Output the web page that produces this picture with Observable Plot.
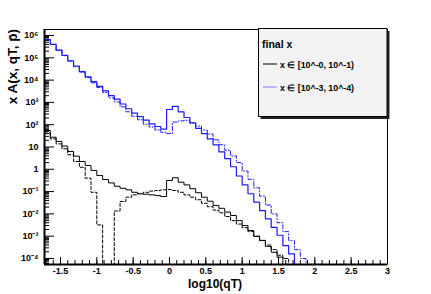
<!DOCTYPE html>
<html><head><meta charset="utf-8">
<script src="https://cdn.jsdelivr.net/npm/d3@7"></script>
<script src="https://cdn.jsdelivr.net/npm/@observablehq/plot@0.6"></script>
<style>
body{margin:0;background:#fff;}
#chart{position:relative;width:431px;height:294px;overflow:hidden;}
</style></head><body><div id="chart"></div>
<script>
// histogram binning of log10(qT)
const binStart = -1.72, binEnd = 3.0, binWidth = 0.08;

// x in [10^-0, 10^-1)  (black)
const blackSolid = [55,27.5,17.8,11,6.3,3.9,2.24,1.48,0.89,0.525,0.347,0.245,0.174,0.141,0.12,0.093,0.079,0.076,0.071,0.066,0.06,0.316,0.417,0.263,0.2,0.135,0.089,0.056,0.037,0.024,0.0178,0.012,0.0085,0.005,0.003,0.0018,9.8e-4,6.5e-4,3.5e-4,1.9e-4,1.15e-4,0,0,0,0,0,0,0,0,0,0,0,0,0,0,0,0,0,0];
const blackDashed = [42,23,13.8,8.3,4.5,2.24,1.23,0.4,0.093,0.0032,0,0,0.0135,0.036,0.056,0.072,0.083,0.093,0.105,0.112,0.12,0.123,0.112,0.093,0.071,0.056,0.043,0.03,0.021,0.0148,0.0112,0.0076,0.005,0.0035,0.0024,0.0016,0.001,6.3e-4,4.0e-4,2.5e-4,1.4e-4,1.0e-4,0,0,0,0,0,0,0,0,0,0,0,0,0,0,0,0,0];
// x in [10^-3, 10^-4)  (blue)
const blueSolid = [6.6e5,4.0e5,2.2e5,1.3e5,7.4e4,4.3e4,2.4e4,1.4e4,8.5e3,5.2e3,3.3e3,2.0e3,1.4e3,850,520,330,230,160,110,83,63,480,660,380,210,120,69,40,23,12.5,6.0,3.0,1.3,0.5,0.2,0.08,0.034,0.014,0.006,0.0025,0.0011,3.8e-4,1.6e-4,0,0,0,0,0,0,0,0,0,0,0,0,0,0,0,0];
const blueDashed = [6.5e5,4.0e5,2.2e5,1.26e5,7.1e4,4.0e4,2.24e4,1.3e4,7.6e3,4.7e3,2.8e3,1.6e3,1.05e3,630,380,240,166,105,79,58,46,40,132,148,158,120,87,58,38,21,12.6,7.2,4.0,2.0,0.83,0.355,0.148,0.063,0.025,0.01,0.004,0.0016,6.3e-4,2.5e-4,1.0e-4,0,0,0,0,0,0,0,0,0,0,0,0,0,0];

const xTicks = [-1.5,-1,-0.5,0,0.5,1,1.5,2,2.5,3];
const xTickLabels = ["-1.5","-1","-0.5","0","0.5","1","1.5","2","2.5","3"];
const yTicks = [1e-4,1e-3,1e-2,1e-1,1,10,1e2,1e3,1e4,1e5,1e6];
const yTickLabels = ["10\u207B\u2074","10\u207B\u00B3","10\u207B\u00B2","10\u207B\u00B9","1","10","10\u00B2","10\u00B3","10\u2074","10\u2075","10\u2076"];
const yDomain = [Math.pow(10,-4.27), Math.pow(10,6.27)];

const legendTitle = "final x";
const legendLabels = ["x \u2208 [10^-0, 10^-1)", "x \u2208 [10^-3, 10^-4)"];
const xTitle = "log10(qT)";
const yTitle = "x A(x, qT, p\u0304)";

function rows(vals){
  const r = vals.map((v,k)=>({x: binStart + k*binWidth, y: Math.max(v, yDomain[0])}));
  r.push({x: binEnd, y: r[r.length-1].y});
  return r;
}
const yMinor = [];
for (let e=-5;e<=6;e++) for (let m=2;m<=9;m++){const v=m*Math.pow(10,e); if(v>yDomain[0]&&v<yDomain[1]) yMinor.push(v);}
const xMinor = d3.range(-17,31).map(i=>i/10);

const font = "'Liberation Sans', Arial, Helvetica, sans-serif";
const plot = Plot.plot({
  width: 431, height: 294,
  marginLeft: 44, marginRight: 44, marginTop: 29, marginBottom: 30,
  x: {domain: [binStart, binEnd]},
  y: {type: "log", domain: yDomain},
  style: {fontFamily: font, fontSize: "9px", fontWeight: "bold", background: "white", color: "black"},
  marks: [
    Plot.axisY({ticks: yMinor, tickSize: -5, text: null, label: null}),
    Plot.axisY({ticks: yTicks, tickSize: -10, tickPadding: 16, label: null,
      tickFormat: d => yTickLabels[yTicks.indexOf(d)]}),
    Plot.axisX({ticks: xMinor, tickSize: -4, text: null, label: null}),
    Plot.axisX({ticks: xTicks, tickSize: -7, tickPadding: 10, label: null,
      tickFormat: d => xTickLabels[xTicks.indexOf(d)]}),
    Plot.frame({stroke: "black"}),
    Plot.line(rows(blackSolid), {x: "x", y: "y", curve: "step-after", stroke: "black", strokeWidth: 1}),
    Plot.line(rows(blackDashed), {x: "x", y: "y", curve: "step-after", stroke: "black", strokeWidth: 1, strokeDasharray: "3,2"}),
    Plot.line(rows(blueDashed), {x: "x", y: "y", curve: "step-after", stroke: "#1a1aff", strokeWidth: 1, strokeDasharray: "4,2,1,2"}),
    Plot.line(rows(blueSolid), {x: "x", y: "y", curve: "step-after", stroke: "#1a1aff", strokeWidth: 1.2}),
    Plot.ruleX([binStart], {stroke: "black", strokeWidth: 2}),
    Plot.ruleY([yDomain[0]], {stroke: "black", strokeWidth: 2})
  ]
});
document.getElementById("chart").appendChild(plot);

const svg = d3.select(plot);
// axis titles
svg.append("text").attr("transform","translate(17,29) rotate(-90)")
  .attr("text-anchor","end").attr("font-family",font).attr("font-weight","bold")
  .attr("font-size","13.5px").attr("fill","black").text(yTitle);
svg.append("text").attr("x",215).attr("y",288)
  .attr("text-anchor","middle").attr("font-family",font).attr("font-weight","bold")
  .attr("font-size","12px").attr("fill","black").text(xTitle);
// legend
const lg = svg.append("g").attr("text-anchor","start");
lg.append("rect").attr("x",260.5).attr("y",31).attr("width",129).attr("height",88).attr("fill","#222");
lg.append("rect").attr("x",258.5).attr("y",28.5).attr("width",128.5).attr("height",88).attr("fill","#f3f3f3").attr("stroke","black");
lg.append("text").attr("x",262).attr("y",48).attr("text-anchor","start").attr("font-family",font).attr("font-weight","bold")
  .attr("font-size","10.5px").attr("fill","black").text(legendTitle);
const legendColors = ["black","#7a7aff"];
legendLabels.forEach((t,i)=>{
  const y = 64 + i*23;
  lg.append("line").attr("x1",263).attr("x2",277).attr("y1",y).attr("y2",y).attr("stroke",legendColors[i]).attr("stroke-width",1);
  lg.append("text").attr("x",280).attr("y",y+3.5).attr("text-anchor","start").attr("font-family",font).attr("font-weight","bold")
    .attr("font-size","8.8px").attr("fill","black").text(t);
});
</script></body></html>
